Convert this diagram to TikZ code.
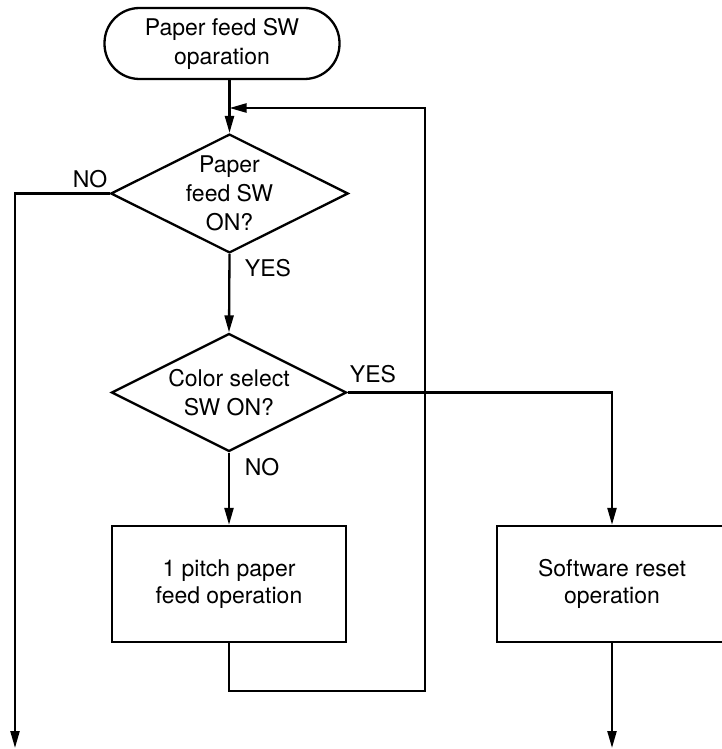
\documentclass[tikz,border=0pt]{standalone}
\usepackage{fontspec}
\setmainfont{TeX Gyre Heros}
\usetikzlibrary{shapes.geometric,arrows.meta}
\tikzset{
	flow/.style={-{Triangle[length=17pt,width=9pt]}},
	terminal/.style={draw,rectangle,rounded corners=35pt,minimum width=235pt,minimum height=71pt,align=center},
	decision/.style={draw,diamond,inner sep=0pt,shape aspect=2,minimum width=235pt,minimum height=118pt,align=center},
	process/.style={draw,rectangle,minimum width=234pt,minimum height=116pt,align=center,font=\fontsize{23}{27}\selectfont},
	answer/.style={inner sep=0pt}
}
\begin{document}
\begin{tikzpicture}[x=1pt,y=-1pt,line width=2.3pt,font=\fontsize{23}{29}\selectfont]
	\useasboundingbox (0,0) rectangle (721,749);
	% Knoten
	\node[terminal] (start) at (222,43.5) {Paper feed SW\\oparation};
	\node[decision] (feedSW) at (229.5,193.5) {Paper\\feed SW\\ON?};
	\node[decision] (colorSW) at (229,392.5) {Color select\\SW ON?};
	\node[process] (pitchFeed) at (229,584) {1 pitch paper\\feed operation};
	\node[process,minimum width=240pt] (softReset) at (617,584) {};
	\node (softText) at (612,584) [align=center,font=\fontsize{23}{27}\selectfont] {Software reset\\operation};
	% Hilfspunkte
	\coordinate (join) at (229.5,108);
	\coordinate (loopCorner) at (425,691);
	\coordinate (outLeft) at (15,748);
	\coordinate (outRight) at (612,748);
	% Verbindungen
	\draw[flow] (start.south -| feedSW.north) -- (feedSW.north);
	\draw[flow] (feedSW.south) -- (colorSW.north);
	\draw[flow] (colorSW.south) -- (pitchFeed.north);
	\draw[flow] (colorSW.east) -| (softReset.north -| softText);
	\draw[flow] (pitchFeed.south) |- (loopCorner) |- (join);
	\draw[flow] (feedSW.west) -| (outLeft);
	\draw[flow] (softReset.south -| softText) -- (outRight);
	% Labels
	\node[answer] (noFeed) at (90,179) {NO};
	\node[answer] (yesFeed) at (268,268) {YES};
	\node[answer] (yesColor) at (373,374) {YES};
	\node[answer] (noColor) at (262,467) {NO};
\end{tikzpicture}
\end{document}
